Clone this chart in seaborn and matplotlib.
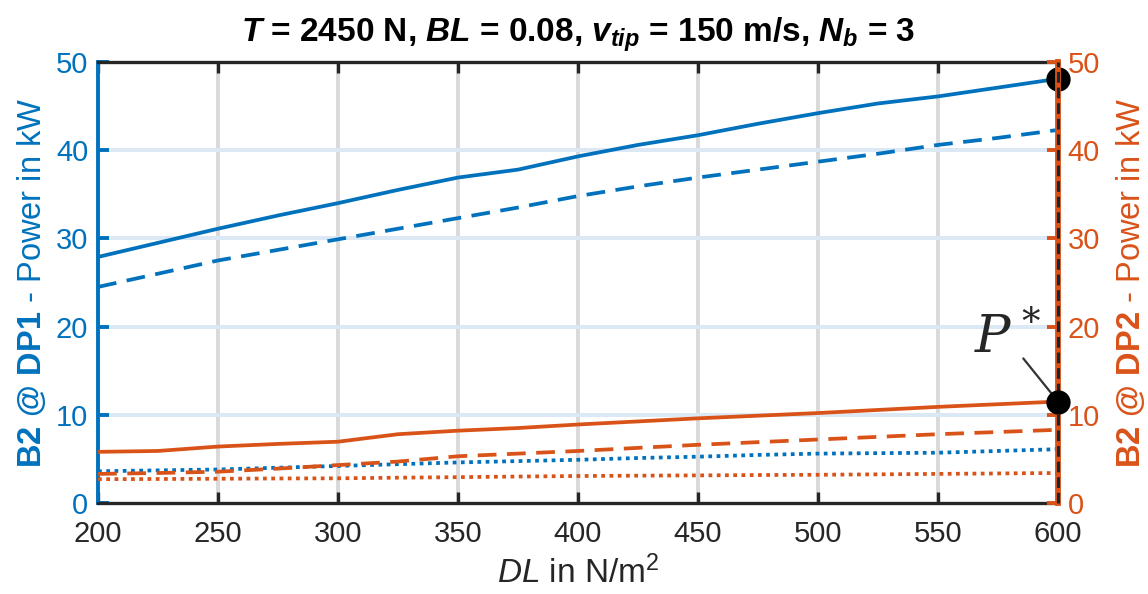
import matplotlib
matplotlib.use("Agg")
import matplotlib.pyplot as plt
import seaborn as sns
import numpy as np
import pandas as pd

# ---- data ----
dl = [200, 225, 250, 275, 300, 325, 350, 375, 400, 425, 450, 475, 500, 525, 550, 575, 600]
dp1_solid = [27.9, 29.5, 31.1, 32.6, 34.0, 35.5, 36.9, 37.8, 39.3, 40.6, 41.7, 43.0, 44.2, 45.3, 46.1, 47.1, 48.1]
dp1_dashed = [24.5, 26.0, 27.5, 28.7, 29.9, 31.1, 32.3, 33.5, 34.8, 35.9, 36.9, 37.8, 38.7, 39.6, 40.6, 41.4, 42.3]
dp1_dotted = [3.6, 3.7, 3.8, 4.0, 4.2, 4.4, 4.6, 4.75, 4.9, 5.1, 5.25, 5.45, 5.6, 5.65, 5.7, 5.9, 6.1]
dp2_solid = [5.8, 5.9, 6.4, 6.7, 6.95, 7.8, 8.2, 8.5, 8.9, 9.25, 9.6, 9.9, 10.2, 10.55, 10.9, 11.2, 11.5]
dp2_dashed = [3.3, 3.4, 3.55, 3.9, 4.3, 4.7, 5.3, 5.6, 5.9, 6.25, 6.6, 6.9, 7.2, 7.5, 7.8, 8.05, 8.3]
dp2_dotted = [2.7, 2.72, 2.75, 2.78, 2.8, 2.87, 2.93, 3.0, 3.06, 3.1, 3.13, 3.17, 3.2, 3.25, 3.3, 3.35, 3.4]
x_ticks = [200, 250, 300, 350, 400, 450, 500, 550, 600]
y_ticks = [0, 10, 20, 30, 40, 50]
marker_dl = 600
marker_p1 = 48.1
marker_p2 = 11.5

BLUE = "#0072BD"
ORANGE = "#D95319"

sns.set_theme(style="white")
plt.rcParams['font.family'] = ['Liberation Sans', 'DejaVu Sans']
plt.rcParams['mathtext.fontset'] = 'custom'
plt.rcParams['mathtext.rm'] = 'Liberation Sans'
plt.rcParams['mathtext.bf'] = 'Liberation Sans:bold'
plt.rcParams['mathtext.it'] = 'Liberation Sans:italic:bold'
plt.rcParams['mathtext.sf'] = 'Liberation Sans:italic'

fig = plt.figure(figsize=(11.48, 5.94), dpi=100)
ax = fig.add_axes([0.0854, 0.1532, 0.8362, 0.7424])
ax2 = ax.twinx()

LW = 2.7
DASH = (5, 2.8)
DOT = (1, 1.2)
df = pd.DataFrame({"dl": dl, "s1": dp1_solid, "d1": dp1_dashed, "o1": dp1_dotted,
                   "s2": dp2_solid, "d2": dp2_dashed, "o2": dp2_dotted})

sns.lineplot(data=df, x="dl", y="s1", ax=ax, color=BLUE, lw=LW)
sns.lineplot(data=df, x="dl", y="d1", ax=ax, color=BLUE, lw=LW)
ax.lines[-1].set_dashes(DASH)
sns.lineplot(data=df, x="dl", y="o1", ax=ax, color=BLUE, lw=LW)
ax.lines[-1].set_dashes(DOT)

sns.lineplot(data=df, x="dl", y="s2", ax=ax2, color=ORANGE, lw=LW)
sns.lineplot(data=df, x="dl", y="d2", ax=ax2, color=ORANGE, lw=LW)
ax2.lines[-1].set_dashes(DASH)
sns.lineplot(data=df, x="dl", y="o2", ax=ax2, color=ORANGE, lw=LW)
ax2.lines[-1].set_dashes(DOT)

for a in (ax, ax2):
    a.set_xlim(200, 600)
    a.set_ylim(0, 50)
    a.set_yticks(y_ticks)
    a.set_xlabel("")
    a.set_ylabel("")
ax.set_xticks(x_ticks)

# grid
for xv in x_ticks[1:-1]:
    ax.axvline(xv, color="#d9d9d9", lw=2.8, zorder=0)
for yv in y_ticks[1:-1]:
    ax.axhline(yv, color="#dbe8f5", lw=2.8, zorder=0)

# spines
for s in ("top", "bottom"):
    ax.spines[s].set_color("#262626")
    ax.spines[s].set_linewidth(2.4)
    ax2.spines[s].set_visible(False)
ax.spines["left"].set_color(BLUE)
ax.spines["left"].set_linewidth(2.8)
ax.spines["right"].set_visible(False)
ax2.spines["left"].set_visible(False)
ax2.spines["right"].set_color(ORANGE)
ax2.spines["right"].set_linewidth(4.2)

ax2.axvline(600, color="#10283c", lw=2.2, dashes=(3.5, 1.6), zorder=5, clip_on=False)

ax.tick_params(axis="x", which="both", direction="in", top=True, bottom=True,
               length=8, width=2.4, color="#262626", labelsize=21, labelcolor="#262626", pad=12)
ax.tick_params(axis="y", direction="in", left=True, right=False, length=8, width=2.8,
               color=BLUE, labelsize=21, labelcolor=BLUE, pad=7)
ax2.tick_params(axis="y", direction="in", right=True, left=False, length=8, width=2.8,
                color=ORANGE, labelsize=21, labelcolor=ORANGE, pad=7)

# markers
ax.plot([marker_dl], [marker_p1], "o", color="black", ms=16.5, clip_on=False, zorder=10)
ax2.plot([marker_dl], [marker_p2], "o", color="black", ms=16.5, clip_on=False, zorder=10)

# annotation P*
ax2.annotate("$P^*$", xy=(marker_dl, marker_p2), xytext=(579, 18.6),
             fontsize=38, math_fontfamily="dejavuserif", ha="center", va="center",
             zorder=6,
             arrowprops=dict(arrowstyle="-", color="#333333", lw=1.6,
                             patchA=None, shrinkA=18, shrinkB=0))

# labels
ax.set_title(r"$T$ = 2450 N, $BL$ = 0.08, $v_{tip}$ = 150 m/s, $N_b$ = 3",
             fontsize=24, fontweight="bold", color="black", pad=15)
ax.set_xlabel(r"$\mathsf{DL}$ in N/m$^\mathrm{2}$", fontsize=24, color="#262626", labelpad=6)
ax.set_ylabel(r"$\mathbf{B2\ @\ DP1}$ - Power in kW", fontsize=23.5, color=BLUE, labelpad=6)
ax2.set_ylabel(r"$\mathbf{B2\ @\ DP2}$ - Power in kW", fontsize=23.5, color=ORANGE, labelpad=10)

fig.savefig("out.png", dpi=100)
